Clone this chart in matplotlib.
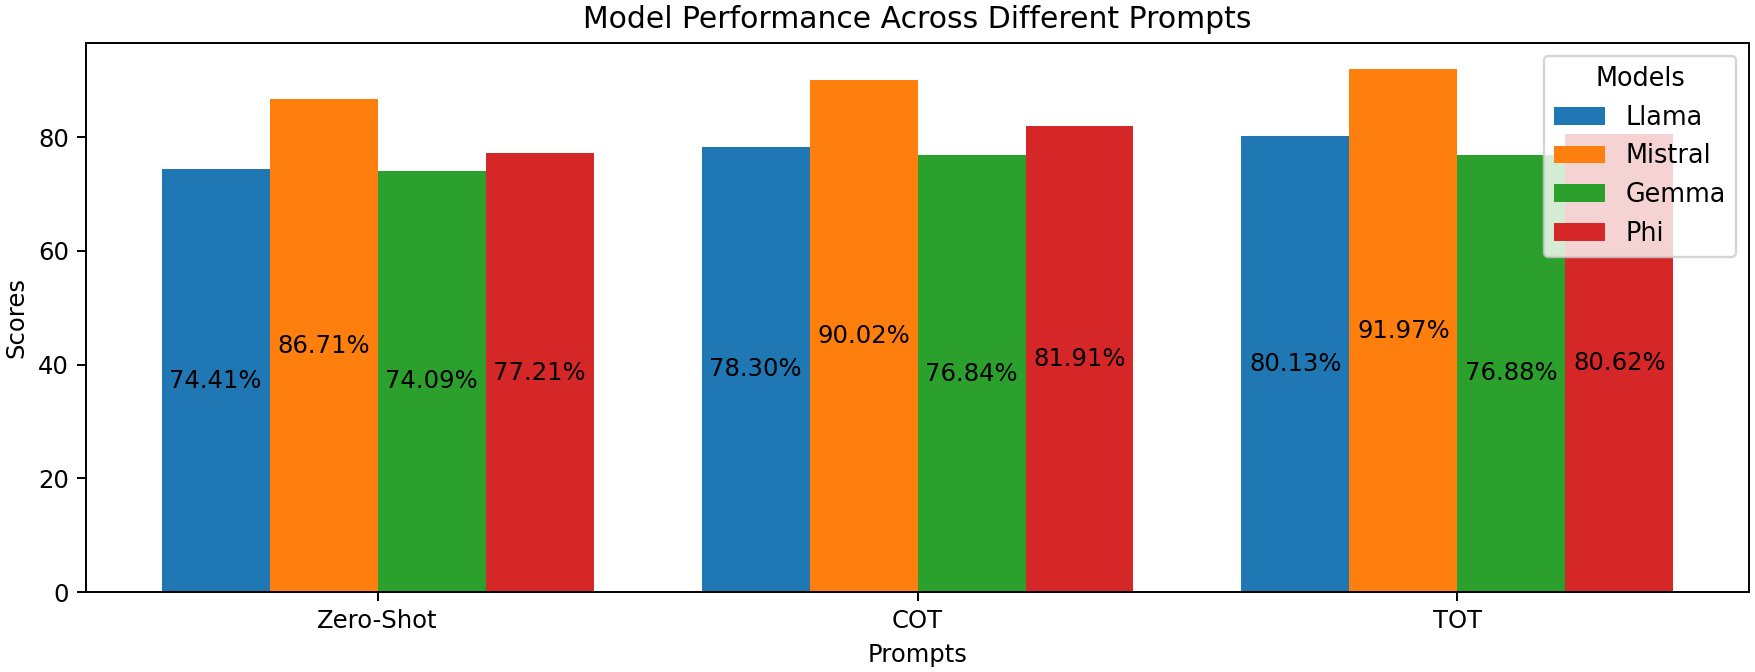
import matplotlib
matplotlib.use('Agg')
import matplotlib.pyplot as plt
import numpy as np

prompts = ['Zero-Shot', 'COT', 'TOT']
models = ['Llama', 'Mistral', 'Gemma', 'Phi']
llama = [74.41, 78.30, 80.13]
mistral = [86.71, 90.02, 91.97]
gemma = [74.09, 76.84, 76.88]
phi = [77.21, 81.91, 80.62]

series = [llama, mistral, gemma, phi]
colors = ['#1f77b4', '#ff7f0e', '#2ca02c', '#d62728']

dpi = 175
fig, ax = plt.subplots(figsize=(1755 / dpi, 672 / dpi), dpi=dpi)
fig.subplots_adjust(left=0.049, right=0.9966, top=0.936, bottom=0.119)

x = np.arange(len(prompts))
width = 0.2
for i, (name, vals) in enumerate(zip(models, series)):
    pos = x + (i - 1.5) * width
    bars = ax.bar(pos, vals, width, color=colors[i], label=name)
    for b, v in zip(bars, vals):
        ax.text(b.get_x() + b.get_width() / 2, v / 2, f'{v:.2f}%',
                ha='center', va='center', fontsize=10)

ax.set_xticks(x)
ax.set_xticklabels(prompts)
ax.set_xlabel('Prompts')
ax.set_ylabel('Scores')
ax.set_title('Model Performance Across Different Prompts', fontsize=12.3)
ax.legend(title='Models', loc='upper right', fontsize=10.5, title_fontsize=10.5)

plt.savefig('out.png', dpi=dpi)
